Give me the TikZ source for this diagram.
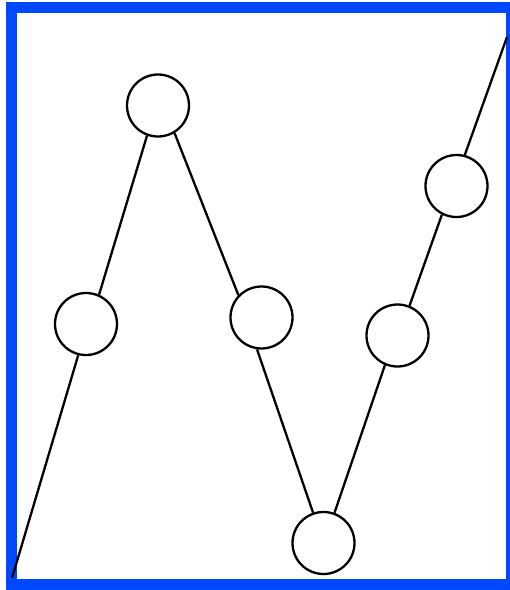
\documentclass[tikz,border=0pt]{standalone}
\begin{document}
\begin{tikzpicture}[x=1pt,y=-1pt,
  ball/.style={circle,draw=black,line width=2.3pt,minimum size=62pt,inner sep=0pt},
  link/.style={draw=black,line width=2.3pt}]
\definecolor{frameblue}{RGB}{0,72,255}
\useasboundingbox (0,0) rectangle (510,590);
\begin{scope}
\clip (0,0) rectangle (510,590);
\draw[frameblue,line width=11pt] (11.5,7.5) rectangle (511.5,584.5);
\end{scope}
\coordinate (s) at (12,578);
\coordinate (e) at (507,37);
\node[ball] (c1) at (86,324) {};
\node[ball] (c2) at (158,105.5) {};
\node[ball] (c3) at (261.5,317.5) {};
\node[ball] (c4) at (323.5,543) {};
\node[ball] (c5) at (397.5,335.5) {};
\node[ball] (c6) at (456.5,186) {};
\draw[link] (s) -- (c1.256)
  (c1.66) -- (c2.250)
  (c2.301) -- (c3.136)
  (c3.262) -- (c4.109)
  (c4.70) -- (c5.247)
  (c5.68) -- (c6.243)
  (c6.75) -- (e);
\end{tikzpicture}
\end{document}
